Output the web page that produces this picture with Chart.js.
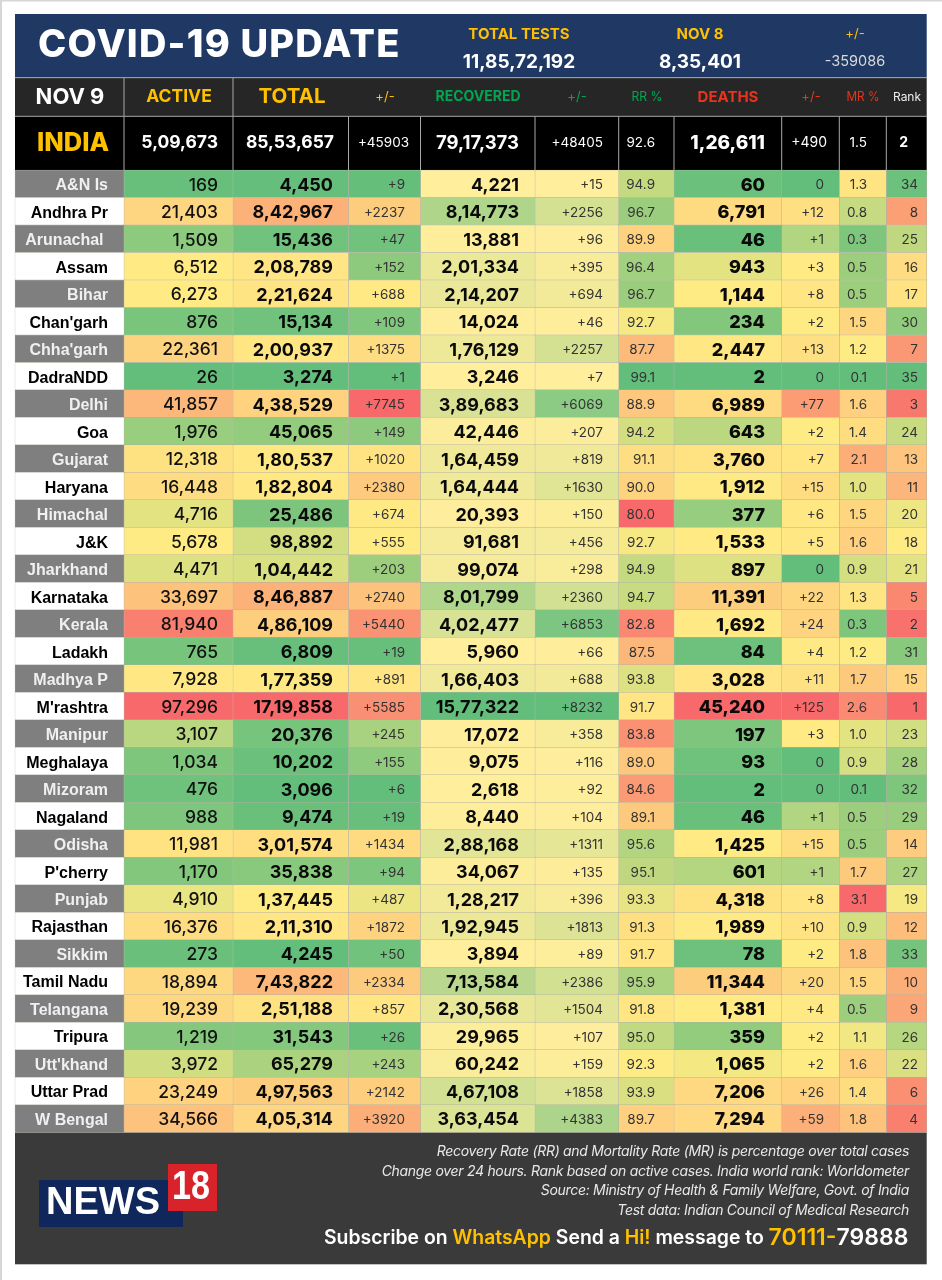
<!DOCTYPE html>
<html><head><meta charset="utf-8">
<style>html,body{margin:0;padding:0;background:#fff}canvas{display:block}</style>
<script src="https://cdn.jsdelivr.net/npm/chart.js@4"></script>
</head><body><canvas id="c" width="942" height="1280"></canvas>
<script>
const states=["A&N Is","Andhra Pr","Arunachal ","Assam","Bihar","Chan'garh","Chha'garh","DadraNDD","Delhi","Goa","Gujarat","Haryana","Himachal","J&K","Jharkhand","Karnataka","Kerala","Ladakh","Madhya P","M'rashtra","Manipur","Meghalaya","Mizoram","Nagaland","Odisha","P'cherry","Punjab","Rajasthan","Sikkim","Tamil Nadu","Telangana","Tripura","Utt'khand","Uttar Prad","W Bengal"];
const active=[169,21403,1509,6512,6273,876,22361,26,41857,1976,12318,16448,4716,5678,4471,33697,81940,765,7928,97296,3107,1034,476,988,11981,1170,4910,16376,273,18894,19239,1219,3972,23249,34566];
const total=[4450,842967,15436,208789,221624,15134,200937,3274,438529,45065,180537,182804,25486,98892,104442,846887,486109,6809,177359,1719858,20376,10202,3096,9474,301574,35838,137445,211310,4245,743822,251188,31543,65279,497563,405314];
const totalChange=[9,2237,47,152,688,109,1375,1,7745,149,1020,2380,674,555,203,2740,5440,19,891,5585,245,155,6,19,1434,94,487,1872,50,2334,857,26,243,2142,3920];
const recovered=[4221,814773,13881,201334,214207,14024,176129,3246,389683,42446,164459,164444,20393,91681,99074,801799,402477,5960,166403,1577322,17072,9075,2618,8440,288168,34067,128217,192945,3894,713584,230568,29965,60242,467108,363454];
const recoveredChange=[15,2256,96,395,694,46,2257,7,6069,207,819,1630,150,456,298,2360,6853,66,688,8232,358,116,92,104,1311,135,396,1813,89,2386,1504,107,159,1858,4383];
const recoveryRate=[94.9,96.7,89.9,96.4,96.7,92.7,87.7,99.1,88.9,94.2,91.1,90.0,80.0,92.7,94.9,94.7,82.8,87.5,93.8,91.7,83.8,89.0,84.6,89.1,95.6,95.1,93.3,91.3,91.7,95.9,91.8,95.0,92.3,93.9,89.7];
const deaths=[60,6791,46,943,1144,234,2447,2,6989,643,3760,1912,377,1533,897,11391,1692,84,3028,45240,197,93,2,46,1425,601,4318,1989,78,11344,1381,359,1065,7206,7294];
const deathsChange=[0,12,1,3,8,2,13,0,77,2,7,15,6,5,0,22,24,4,11,125,3,0,0,1,15,1,8,10,2,20,4,2,2,26,59];
const mortalityRate=[1.3,0.8,0.3,0.5,0.5,1.5,1.2,0.1,1.6,1.4,2.1,1.0,1.5,1.6,0.9,1.3,0.3,1.2,1.7,2.6,1.0,0.9,0.1,0.5,0.5,1.7,3.1,0.9,1.8,1.5,0.5,1.1,1.6,1.4,1.8];
const rank=[34,8,25,16,17,30,7,35,3,24,13,11,20,18,21,5,2,31,15,1,23,28,32,29,14,27,19,12,33,10,9,26,22,6,4];
const indiaRow=["5,09,673","85,53,657","+45903","79,17,373","+48405","92.6","1,26,611","+490","1.5","2"];
const headerLabels=["ACTIVE","TOTAL","+/-","RECOVERED","+/-","RR %","DEATHS","+/-","MR %","Rank"];

const F='Inter, "Open Sans", sans-serif';
const edges=[15,124,233,348.5,420.5,535,618.7,674,781.7,839.3,886.3,926.7];
const GREEN=[99,190,123],YEL=[255,235,132],RED=[248,105,107],PALE=[255,238,156];
const fmtIN=v=>new Intl.NumberFormat('en-IN').format(v);
const plus=v=>v===0?'0':'+'+v;
const fix1=v=>v.toFixed(1);
const bold='700 18px '+F, heavy='800 18px '+F, med='500 17.5px '+F, small='400 13.5px '+F;
const columns=[
 {data:active,fmt:fmtIN,scale:'gyr',font:med,color:'#111',right:218},
 {data:total,fmt:fmtIN,scale:'gyr',font:bold,color:'#0a0a0a',right:333},
 {data:totalChange,fmt:plus,scale:'gyr',font:small,color:'#333',right:405},
 {data:recovered,fmt:fmtIN,scale:'yg',font:bold,color:'#0a0a0a',right:519},
 {data:recoveredChange,fmt:plus,scale:'yg',font:small,color:'#333',right:603},
 {data:recoveryRate,fmt:fix1,scale:'ryg',font:small,color:'#333',right:655},
 {data:deaths,fmt:fmtIN,scale:'gyr',font:heavy,color:'#0a0a0a',right:765},
 {data:deathsChange,fmt:plus,scale:'gyr',mid:2,font:small,color:'#333',right:824},
 {data:mortalityRate,fmt:fix1,scale:'gyr',font:small,color:'#333',right:867},
 {data:rank,fmt:String,scale:'ryg',font:small,color:'#333',right:918}
];
const mix=(a,b,t)=>'rgb('+a.map((v,i)=>Math.round(v+(b[i]-v)*t)).join(',')+')';
function heat(col,i){
  const d=col.data,v=d[i],s=[...d].sort((a,b)=>a-b),lo=s[0],hi=s[s.length-1],m=col.mid!==undefined?col.mid:s[(s.length-1)/2];
  if(col.scale==='yg') return mix(PALE,GREEN,(v-lo)/(hi-lo));
  const [a,c]=col.scale==='gyr'?[GREEN,RED]:[RED,GREEN];
  return v<=m?mix(a,YEL,(v-lo)/(m-lo||1)):mix(YEL,c,(v-m)/(hi-m));
}
const barBase={borderColor:'#b0b0a4',borderWidth:{top:.5,bottom:.5,left:.5,right:.5},borderSkipped:false,grouped:false,barPercentage:1,categoryPercentage:1,clip:false};
const datasets=[{...barBase,label:'State',data:states.map(()=>[edges[0],edges[1]]),backgroundColor:states.map((_,i)=>i%2?'#ffffff':'#7f7f7f')}]
 .concat(columns.map((c,k)=>({...barBase,label:headerLabels[k],data:c.data.map(()=>[edges[k+1],edges[k+2]]),backgroundColor:c.data.map((_,i)=>heat(c,i))})));

function txt(ctx,s,x,y,font,color,align,ls,maxW){
  ctx.font=font;ctx.fillStyle=color;ctx.textAlign=align||'center';ctx.textBaseline='middle';
  ctx.letterSpacing=ls||'0px';
  if(maxW)ctx.fillText(s,x,y,maxW);else ctx.fillText(s,x,y);
  ctx.letterSpacing='0px';
}
const tablePlugin={id:'table',
 beforeDatasetsDraw(ch){
  const c=ch.ctx,x=ch.scales.x,px=v=>x.getPixelForValue(v),L=px(edges[0]),R=px(edges[11]);
  c.save();
  c.fillStyle='#d6d6d6';c.fillRect(0,0,942,1.5);c.fillRect(0,0,2,1280);
  c.fillStyle='#1f3864';c.fillRect(L,14,R-L,63.5);
  c.fillStyle='#262626';c.fillRect(L,78,R-L,38.5);
  c.fillStyle='#000';c.fillRect(L,116.5,R-L,53.5);
  c.fillStyle='#3a3a3a';c.fillRect(L,1132.3,R-L,132);
  c.fillStyle='#9a9a9a';c.fillRect(L,77,R-L,1.2);c.fillRect(L,115.8,R-L,1);
  c.fillStyle='#a8a8a8';
  edges.forEach((e,i)=>{ if(i>0&&i<11){c.fillRect(px(e)-.5,116.5,1,53.5);} });
  [edges[1],edges[2]].forEach(e=>c.fillRect(px(e)-.5,78,1,38));
  c.restore();
 },
 afterDatasetsDraw(ch){
  const c=ch.ctx,meta=ch.getDatasetMeta(0);
  c.save();
  columns.forEach(col=>{
    meta.data.forEach((el,i)=>{
      txt(c,col.fmt(col.data[i]),col.right,el.y+1.5,col.font,col.color,'right');
    });
  });
  const G='#ffc000';
  txt(c,'COVID-19 UPDATE',38,46,'800 38px '+F,'#fff','left','1.2px');
  txt(c,'TOTAL TESTS',519,34,'700 15px '+F,G);
  txt(c,'11,85,72,192',519,62,'700 19px '+F,'#fff');
  txt(c,'NOV 8',700,34,'700 15px '+F,G);
  txt(c,'8,35,401',700,62,'700 19px '+F,'#fff');
  txt(c,'+/-',855,34,'400 13px '+F,G);
  txt(c,'-359086',855,62,'400 14.5px '+F,'#d9d9d9');
  txt(c,'NOV 9',70,97,'700 22px '+F,'#fff');
  const H=[[179,'700 17.5px',G],[292,'700 20.5px',G],[385,'400 13px',G],[478,'700 14px','#00a651'],[577,'400 13px','#00a651'],[647,'400 13px','#00a651',31],[728,'700 15px','#e8341c'],[811,'400 13px','#e8341c'],[863,'400 13px','#e8341c',33],[907,'400 12px','#eee',30]];
  H.forEach((h,k)=>txt(c,headerLabels[k],h[0],97,h[1]+' '+F,h[2],'center','0px',h[3]));
  txt(c,'INDIA',73,143,'800 25.5px '+F,G);
  const R=[[218,'700 17.5px'],[334,'700 17.5px'],[409,'400 13.5px'],[519,'700 18.5px'],[603,'400 13.5px'],[655,'400 13.5px'],[765,'800 19px'],[827,'400 14px'],[867,'400 13.5px'],[908,'700 14px']];
  indiaRow.forEach((s,k)=>txt(c,s,R[k][0],143,R[k][1]+' '+F,'#fff','right'));
  const NF='italic 400 14px '+F;
  [['Recovery Rate (RR) and Mortality Rate (MR) is percentage over total cases',1152],
   ['Change over 24 hours. Rank based on active cases. India world rank: Worldometer',1171.5],
   ['Source: Ministry of Health & Family Welfare, Govt. of India',1191],
   ['Test data: Indian Council of Medical Research',1210.5]].forEach(l=>txt(c,l[0],909,l[1],NF,'#e8e8e8','right','-0.3px'));
  c.fillStyle='#10275c';c.fillRect(39,1180,144,47);
  c.fillStyle='#d8232a';c.fillRect(168,1164,49,47);
  txt(c,'NEWS',46,1204,'700 38px "Liberation Sans"','#fff','left','0px',119);
  txt(c,'18',191,1188,'700 40px "Liberation Sans"','#fff','center','0px',38);
  const parts=[['Subscribe on ','#fff',19.4],['WhatsApp',G,19.4],[' Send a ','#fff',19.4],['Hi!',G,19.4],[' message to ','#fff',19.4],['70111-',G,23],['79888','#fff',23]];
  let xx=324;
  parts.forEach(p=>{const f='600 '+p[2]+'px '+F;c.font=f;const w=c.measureText(p[0]).width;txt(c,p[0],xx,1238,f,p[1],'left');xx+=w;});
  c.restore();
 }
};
new Chart(document.getElementById('c'),{
 type:'bar',
 data:{labels:states,datasets},
 plugins:[tablePlugin],
 options:{
  indexAxis:'y',responsive:false,animation:false,devicePixelRatio:1,
  layout:{padding:{left:15,right:15.3,top:170,bottom:147.7}},
  plugins:{legend:{display:false},tooltip:{enabled:false},title:{display:false}},
  scales:{
   x:{type:'linear',min:edges[1],max:edges[11],display:false},
   y:{type:'category',position:'left',offset:true,
      afterFit(s){s.width=109;},
      grid:{display:false,drawTicks:false},border:{display:false},
      ticks:{z:2,autoSkip:false,padding:16,labelOffset:2,font:{family:'"Liberation Sans"',weight:'700',size:16},
             color:ctx=>ctx.index%2?'#000':'#f0f0f0'}}
  }
 }
});
</script></body></html>
